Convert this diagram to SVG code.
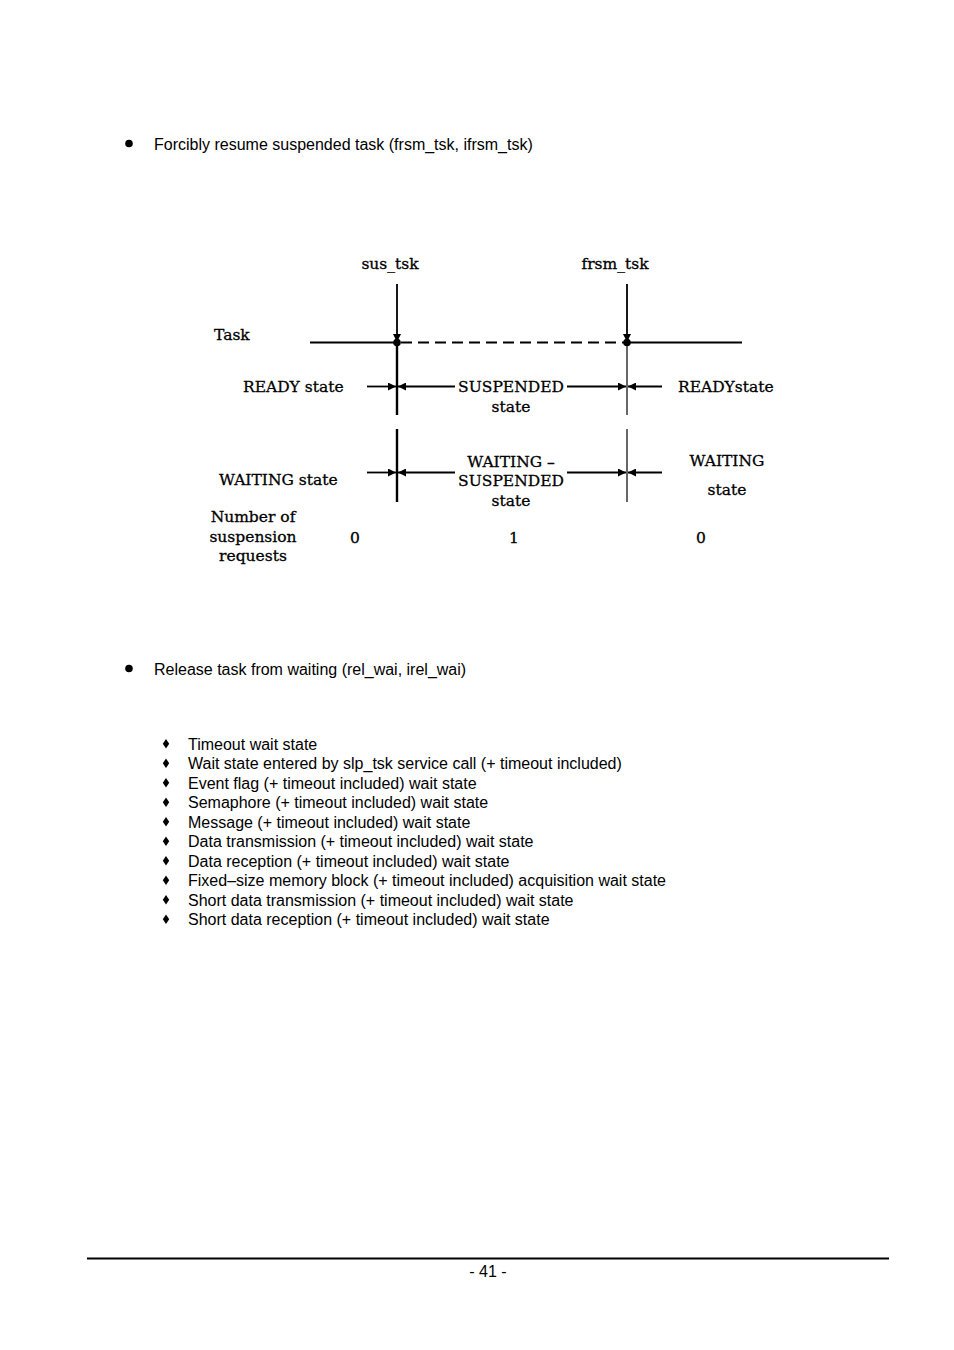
<svg xmlns="http://www.w3.org/2000/svg" width="954" height="1350" viewBox="0 0 954 1350">
<style>
.sans{font-family:"Liberation Sans",Arial,sans-serif;font-size:16px;fill:#000}
.serif{font-family:"DejaVu Serif","Liberation Serif",serif;font-size:15.5px;fill:#000;stroke:#000;stroke-width:0.3}
.mid{text-anchor:middle}
.ln{stroke:#000;fill:none}
</style>
<defs>
<marker id="ah" viewBox="0 0 10 10" refX="10" refY="5" markerWidth="10" markerHeight="8" markerUnits="userSpaceOnUse" orient="auto">
<path d="M0,0 L10,5 L0,10 z" fill="#000"/>
</marker>
</defs>
<rect width="954" height="1350" fill="#fff"/>

<g id="heading1">
<circle cx="129" cy="143.5" r="3.8" fill="#000"/>
<text class="sans" x="154" y="149.5">Forcibly resume suspended task (frsm_tsk, ifrsm_tsk)</text>
</g>

<g id="labels">
<text class="serif mid" x="390" y="269">sus_tsk</text>
<text class="serif mid" x="615" y="269">frsm_tsk</text>
<text class="serif" x="214" y="340">Task</text>
<text class="serif" x="243" y="392">READY state</text>
<text class="serif" x="219" y="485">WAITING state</text>
<text class="serif mid" x="253" y="522">Number of</text>
<text class="serif mid" x="253" y="542">suspension</text>
<text class="serif mid" x="253" y="561">requests</text>
</g>

<g id="node-suspended">
<text class="serif mid" x="511" y="392">SUSPENDED</text>
<text class="serif mid" x="511" y="412">state</text>
</g>
<g id="node-readystate">
<text class="serif" x="678" y="392">READYstate</text>
</g>
<g id="node-waiting-suspended">
<text class="serif mid" x="511" y="467">WAITING –</text>
<text class="serif mid" x="511" y="486">SUSPENDED</text>
<text class="serif mid" x="511" y="506">state</text>
</g>
<g id="node-waiting">
<text class="serif mid" x="727" y="466">WAITING</text>
<text class="serif mid" x="727" y="495">state</text>
</g>
<g id="counts">
<text class="serif mid" x="355" y="543">0</text>
<text class="serif mid" x="514" y="543">1</text>
<text class="serif mid" x="701" y="543">0</text>
</g>

<g id="connectors">
<line class="ln" x1="310" y1="342.5" x2="397" y2="342.5" stroke-width="2.2"/>
<line class="ln" x1="401" y1="342.5" x2="625" y2="342.5" stroke-width="2.2" stroke-dasharray="11,6"/>
<line class="ln" x1="627" y1="342.5" x2="742" y2="342.5" stroke-width="2.2"/>
<circle cx="397" cy="342.5" r="3.8" fill="#000"/>
<circle cx="627" cy="342.5" r="3.8" fill="#000"/>
<line class="ln" x1="397" y1="284" x2="397" y2="342" stroke-width="1.8" marker-end="url(#ah)"/>
<line class="ln" x1="627" y1="284" x2="627" y2="342" stroke-width="1.8" marker-end="url(#ah)"/>
<line class="ln" x1="397" y1="342" x2="397" y2="415" stroke-width="2.4"/>
<line class="ln" x1="627" y1="342" x2="627" y2="415" stroke-width="1.2"/>
<line class="ln" x1="397" y1="429" x2="397" y2="502" stroke-width="2.4"/>
<line class="ln" x1="627" y1="429" x2="627" y2="502" stroke-width="1.2"/>
<line class="ln" x1="367" y1="386.5" x2="396" y2="386.5" stroke-width="1.8" marker-end="url(#ah)"/>
<line class="ln" x1="455" y1="386.5" x2="398" y2="386.5" stroke-width="1.8" marker-end="url(#ah)"/>
<line class="ln" x1="567" y1="386.5" x2="626" y2="386.5" stroke-width="1.8" marker-end="url(#ah)"/>
<line class="ln" x1="662" y1="386.5" x2="628" y2="386.5" stroke-width="1.8" marker-end="url(#ah)"/>
<line class="ln" x1="367" y1="472.5" x2="396" y2="472.5" stroke-width="1.8" marker-end="url(#ah)"/>
<line class="ln" x1="455" y1="472.5" x2="398" y2="472.5" stroke-width="1.8" marker-end="url(#ah)"/>
<line class="ln" x1="567" y1="472.5" x2="626" y2="472.5" stroke-width="1.8" marker-end="url(#ah)"/>
<line class="ln" x1="662" y1="472.5" x2="628" y2="472.5" stroke-width="1.8" marker-end="url(#ah)"/>
</g>

<g id="heading2">
<circle cx="129" cy="668.5" r="3.8" fill="#000"/>
<text class="sans" x="154" y="675">Release task from waiting (rel_wai, irel_wai)</text>
</g>

<g id="list">
<g fill="#000">
<path d="M166,739 l3.2,4.8 l-3.2,4.8 l-3.2,-4.8 z"/>
<path d="M166,758.5 l3.2,4.8 l-3.2,4.8 l-3.2,-4.8 z"/>
<path d="M166,778 l3.2,4.8 l-3.2,4.8 l-3.2,-4.8 z"/>
<path d="M166,797.5 l3.2,4.8 l-3.2,4.8 l-3.2,-4.8 z"/>
<path d="M166,817 l3.2,4.8 l-3.2,4.8 l-3.2,-4.8 z"/>
<path d="M166,836.5 l3.2,4.8 l-3.2,4.8 l-3.2,-4.8 z"/>
<path d="M166,856 l3.2,4.8 l-3.2,4.8 l-3.2,-4.8 z"/>
<path d="M166,875.5 l3.2,4.8 l-3.2,4.8 l-3.2,-4.8 z"/>
<path d="M166,895 l3.2,4.8 l-3.2,4.8 l-3.2,-4.8 z"/>
<path d="M166,914.5 l3.2,4.8 l-3.2,4.8 l-3.2,-4.8 z"/>
</g>
<text class="sans" x="188" y="749.5">Timeout wait state</text>
<text class="sans" x="188" y="769">Wait state entered by slp_tsk service call (+ timeout included)</text>
<text class="sans" x="188" y="788.5">Event flag (+ timeout included) wait state</text>
<text class="sans" x="188" y="808">Semaphore (+ timeout included) wait state</text>
<text class="sans" x="188" y="827.5">Message (+ timeout included) wait state</text>
<text class="sans" x="188" y="847">Data transmission (+ timeout included) wait state</text>
<text class="sans" x="188" y="866.5">Data reception (+ timeout included) wait state</text>
<text class="sans" x="188" y="886">Fixed–size memory block (+ timeout included) acquisition wait state</text>
<text class="sans" x="188" y="905.5">Short data transmission (+ timeout included) wait state</text>
<text class="sans" x="188" y="925">Short data reception (+ timeout included) wait state</text>
</g>

<g id="footer">
<line x1="87" y1="1258.5" x2="889" y2="1258.5" stroke="#000" stroke-width="2"/>
<text class="sans mid" x="488" y="1277">- 41 -</text>
</g>
</svg>
